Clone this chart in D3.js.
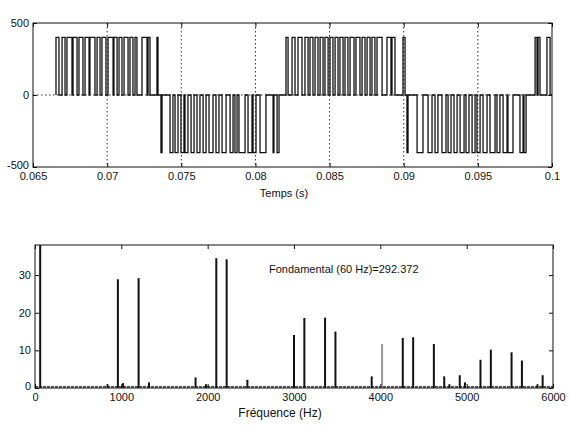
<!DOCTYPE html>
<html>
<head>
<meta charset="utf-8">
<script src="https://cdn.jsdelivr.net/npm/d3@7"></script>
<style>
body { margin: 0; background: #fff; }
svg text { font-family: "Liberation Sans", Arial, sans-serif; font-size: 11px; fill: #111; }
</style>
</head>
<body>
<div id="chart"></div>
<script>
/******************** Data ********************/
// top plot: time axis
var timeTicks = [0.065, 0.07, 0.075, 0.08, 0.085, 0.09, 0.095, 0.1];
var timeLabels = ["0.065", "0.07", "0.075", "0.08", "0.085", "0.09", "0.095", "0.1"];
var voltTicks = [-500, 0, 500];
var pulseLevel = 400;

// pulse edges (ms), [rise, fall]
var pos1 = [[66.55,66.75],[66.96,67.16],[67.29,67.63],[67.70,67.97],[68.10,68.37],[68.51,68.78],
  [68.84,69.18],[69.32,69.52],[69.65,69.92],[70.06,70.40],[70.46,70.67],[70.80,71.00],
  [71.14,71.41],[71.54,71.74],[71.88,72.01],[72.35,72.69],[72.76,72.89],[73.36,73.43]];
var neg1 = [[73.63,73.70],[74.24,74.44],[74.58,74.78],[74.98,75.18],[75.25,75.45],[75.66,75.86],
  [76.06,76.26],[76.47,76.67],[76.87,77.14],[77.34,77.54],[77.75,78.02],[78.29,78.49],
  [78.62,78.76],[78.89,79.30],[79.50,79.77],[79.84,80.04],[80.31,80.71],[81.19,81.25],[81.46,81.59]];
var pos2 = [[82.06,82.20],[82.47,82.67],[82.87,83.14],[83.34,83.55],[83.68,83.88],[84.02,84.22],
  [84.36,84.56],[84.69,84.90],[85.03,85.23],[85.37,85.57],[85.70,85.91],[86.04,86.24],
  [86.38,86.65],[86.78,87.05],[87.19,87.39],[87.53,87.73],[87.86,88.06],[88.20,88.54],
  [88.87,89.14],[89.21,89.41],[89.95,90.09]];
var neg2 = [[90.22,90.29],[90.90,91.30],[91.64,91.91],[92.11,92.31],[92.58,92.85],[92.99,93.19],
  [93.39,93.60],[93.80,94.07],[94.20,94.40],[94.61,94.81],[94.94,95.15],[95.35,95.62],
  [95.82,96.16],[96.29,96.49],[96.70,96.97],[97.03,97.37],[97.84,98.05],[98.11,98.25]];
var pos3 = [[98.86,98.99],[99.06,99.19],[99.66,99.87]];
var endTime = 100;

// bottom plot: spectrum
var freqTicks = [0, 1000, 2000, 3000, 4000, 5000, 6000];
var ampTicks = [0, 10, 20, 30];
var fundFreq = 60, fundAmp = 292.372;
var harmFreqs = [840, 960, 1020, 1200, 1320, 1860, 1980, 2100, 2220, 2460,
  3000, 3120, 3360, 3480, 3900, 4020, 4260, 4380, 4620, 4740, 4800, 4920, 4980,
  5160, 5280, 5520, 5640, 5820, 5880];
var harmAmps = [1.0, 28.9, 1.3, 29.2, 1.5, 2.8, 1.0, 34.5, 34.2, 2.2,
  14.1, 18.6, 18.7, 15.0, 3.1, 11.7, 13.3, 13.5, 11.7, 3.1, 1.0, 3.4, 1.5,
  7.5, 10.2, 9.5, 7.3, 1.0, 3.4];
var faintFreq = 4020;

/******************** Plot ********************/
var svg = d3.select("#chart").append("svg")
  .attr("width", 570)
  .attr("height", 429);

var ink = "#111";

function frameAxes(g, box, xs, ys, xt, xl, yt, yl) {
  g.append("g")
    .attr("transform", "translate(0," + box.bottom + ")")
    .call(d3.axisBottom(xs).tickValues(xt).tickFormat(function(d, i) { return xl[i]; })
      .tickSizeInner(-4).tickSizeOuter(0).tickPadding(5));
  g.append("g")
    .attr("transform", "translate(0," + box.top + ")")
    .call(d3.axisTop(xs).tickValues(xt).tickFormat("").tickSizeInner(-4).tickSizeOuter(0));
  var left = g.append("g")
    .attr("transform", "translate(" + box.left + ",0)")
    .call(d3.axisLeft(ys).tickValues(yt).tickFormat(function(d, i) { return yl[i]; })
      .tickSizeInner(-4).tickSizeOuter(0).tickPadding(4));
  g.append("g")
    .attr("transform", "translate(" + box.right + ",0)")
    .call(d3.axisRight(ys).tickValues(yt).tickFormat("").tickSizeInner(-4).tickSizeOuter(0));
  g.selectAll(".domain").remove();
  g.selectAll(".tick line").attr("stroke", ink);
  g.selectAll(".tick text").attr("fill", ink).style("font-size", "11px");
  // lift the lowest y label a little off the first x label
  left.selectAll(".tick text").filter(function(d) { return d === yt[0]; })
    .attr("dy", "0.1em");
  g.append("rect")
    .attr("x", box.left).attr("y", box.top)
    .attr("width", box.right - box.left).attr("height", box.bottom - box.top)
    .attr("fill", "none").attr("stroke", ink).attr("stroke-width", 1);
}

// ---- top: PWM voltage ----
var b1 = {left: 33, right: 552, top: 23, bottom: 167};
var xT = d3.scaleLinear().domain([0.065, 0.1]).range([b1.left, b1.right]);
var yV = d3.scaleLinear().domain([-500, 500]).range([b1.bottom, b1.top]);

var g1 = svg.append("g");

g1.selectAll(".vgrid")
  .data(timeTicks.slice(1, -1))
  .enter().append("line")
  .attr("x1", function(d) { return xT(d); })
  .attr("x2", function(d) { return xT(d); })
  .attr("y1", b1.top).attr("y2", b1.bottom)
  .attr("stroke", "#333").attr("stroke-dasharray", "1.5,2.5");

g1.append("line")
  .attr("x1", b1.left).attr("x2", b1.right)
  .attr("y1", yV(0)).attr("y2", yV(0))
  .attr("stroke", "#333").attr("stroke-dasharray", "1.5,2.5");

var segments = [
  {pulses: pos1, level: pulseLevel},
  {pulses: neg1, level: -pulseLevel},
  {pulses: pos2, level: pulseLevel},
  {pulses: neg2, level: -pulseLevel},
  {pulses: pos3, level: pulseLevel}
];
var wave = [];
segments.forEach(function(seg) {
  seg.pulses.forEach(function(p) {
    wave.push([p[0], 0], [p[0], seg.level], [p[1], seg.level], [p[1], 0]);
  });
});
wave.push([endTime, 0]);

var waveLine = d3.line()
  .x(function(d) { return xT(d[0] / 1000); })
  .y(function(d) { return yV(d[1]); });

g1.append("path")
  .datum(wave)
  .attr("d", waveLine)
  .attr("fill", "none")
  .attr("stroke", ink)
  .attr("stroke-width", 1.3);

frameAxes(g1, b1, xT, yV, timeTicks, timeLabels, voltTicks, voltTicks.map(String));

g1.append("text")
  .attr("x", 284).attr("y", 197)
  .attr("text-anchor", "middle")
  .text("Temps (s)");

// ---- bottom: spectrum ----
var b2 = {left: 35, right: 553, top: 245, bottom: 388};
var xF = d3.scaleLinear().domain([0, 6000]).range([b2.left, b2.right]);
var yA = d3.scaleLinear().domain([0, 38]).range([b2.bottom, b2.top]);

var g2 = svg.append("g");

svg.append("defs").append("clipPath")
  .attr("id", "clip2")
  .append("rect")
  .attr("x", b2.left).attr("y", b2.top)
  .attr("width", b2.right - b2.left).attr("height", b2.bottom - b2.top);

var bars = [{f: fundFreq, a: fundAmp}].concat(harmFreqs.map(function(f, i) {
  return {f: f, a: harmAmps[i]};
}));

g2.append("line")
  .attr("x1", b2.left).attr("x2", b2.right)
  .attr("y1", yA(0.3)).attr("y2", yA(0.3))
  .attr("stroke", ink).attr("stroke-width", 1.2).attr("stroke-dasharray", "3,1");

g2.append("g")
  .attr("clip-path", "url(#clip2)")
  .selectAll("line")
  .data(bars)
  .enter().append("line")
  .attr("x1", function(d) { return xF(d.f); })
  .attr("x2", function(d) { return xF(d.f); })
  .attr("y1", yA(0))
  .attr("y2", function(d) { return yA(d.a); })
  .attr("stroke", function(d) { return d.f === faintFreq ? "#999" : ink; })
  .attr("stroke-width", 2);

frameAxes(g2, b2, xF, yA, freqTicks, freqTicks.map(String), ampTicks, ampTicks.map(String));

g2.append("text")
  .attr("x", 269).attr("y", 273)
  .style("font-size", "11px")
  .text("Fondamental (60 Hz)=" + fundAmp);

g2.append("text")
  .attr("x", 280).attr("y", 417)
  .attr("text-anchor", "middle")
  .style("font-size", "12px")
  .text("Fréquence (Hz)");
</script>
</body>
</html>
